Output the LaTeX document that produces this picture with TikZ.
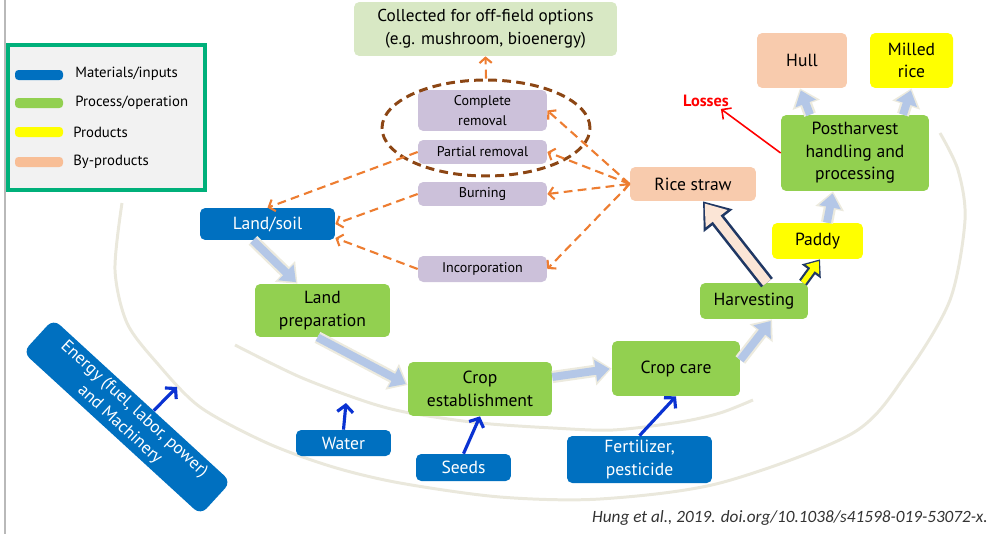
\documentclass[tikz,border=0pt]{standalone}
\usepackage{fontspec}
\setmainfont{PT Sans}
\newfontfamily\citefamily{Carlito}
\usetikzlibrary{arrows.meta,shapes}

\definecolor{matblue}{RGB}{0,112,192}
\definecolor{procgreen}{RGB}{146,208,80}
\definecolor{prodyellow}{RGB}{255,255,0}
\definecolor{byprod}{RGB}{248,203,173}
\definecolor{byprodbar}{RGB}{248,190,150}
\definecolor{optpurple}{RGB}{204,193,218}
\definecolor{offfield}{RGB}{216,232,196}
\definecolor{flowblue}{RGB}{180,199,231}
\definecolor{flowrim}{RGB}{236,234,222}
\definecolor{arcgray}{RGB}{234,232,220}
\definecolor{dashorange}{RGB}{237,125,49}
\definecolor{ringbrown}{RGB}{140,70,20}
\definecolor{inputblue}{RGB}{10,50,210}
\definecolor{navy}{RGB}{32,56,100}
\definecolor{strawfill}{RGB}{251,229,214}
\definecolor{legendgreen}{RGB}{0,176,122}
\definecolor{legendgray}{RGB}{242,242,242}

\newcommand{\boxfont}{\fontsize{10}{12.8}\selectfont}
\newcommand{\optfont}{\fontsize{8}{11}\selectfont}
\newcommand{\keyfont}{\fontsize{8.4}{9}\selectfont}
\newcommand{\energyfont}{\fontsize{9.8}{12}\selectfont}
\newcommand{\citefont}{\citefamily\itshape\fontsize{9.8}{11}\selectfont}

\tikzstyle{box}=[rectangle,rounded corners=3pt,inner sep=0pt,align=center,font=\boxfont]
\tikzstyle{matbox}=[box,fill=matblue,text=white]
\tikzstyle{procbox}=[box,fill=procgreen]
\tikzstyle{prodbox}=[box,fill=prodyellow]
\tikzstyle{byprodbox}=[box,fill=byprod]
\tikzstyle{optbox}=[box,fill=optpurple,font=\optfont,minimum width=2.58cm]
\tikzstyle{key}=[anchor=west,inner sep=0pt,font=\keyfont]
\tikzstyle{season}=[draw=arcgray,line width=1.7pt]
\tikzstyle{flow}=[draw=flowblue,line width=4.5pt,shorten >=1.2pt,-{Triangle[length=8pt,width=12pt]},preaction={draw=flowrim,line width=7pt,shorten >=0pt,-{Triangle[length=10pt,width=16pt]}}]
\tikzstyle{strawflow}=[draw=strawfill,line width=5.5pt,shorten >=1.5pt,-{Triangle[length=11pt,width=15pt]},preaction={draw=navy,line width=8.5pt,shorten >=0pt,-{Triangle[length=14pt,width=20pt]}}]
\tikzstyle{paddyflow}=[draw=prodyellow,line width=3pt,shorten >=1.2pt,-{Triangle[length=6pt,width=9pt]},preaction={draw=navy,line width=5.5pt,shorten >=0pt,-{Triangle[length=8.5pt,width=13pt]}}]
\tikzstyle{fate}=[draw=dashorange,line width=1.2pt,dash pattern=on 5pt off 3pt,-{Straight Barb[length=3pt,width=7pt]}]
\tikzstyle{feed}=[draw=inputblue,line width=1.8pt,-{Straight Barb[length=4pt,width=9pt]}]

\begin{document}
\begin{tikzpicture}[x=0.02cm,y=-0.02cm]
\useasboundingbox (0,0) rectangle (991,534);
% cycle in the background
\draw[season] plot[smooth] coordinates {(122,203) (115,270) (127,323) (157,363) (200,407) (267,443) (333,467) (400,483) (500,497) (600,499) (720,483) (853,433) (907,373) (950,300) (965,220) (958,170) (940,133)};
\draw[season] plot[smooth] coordinates {(235,345) (300,377) (367,402) (410,413) (480,423) (553,428) (613,430) (680,422) (720,413) (753,400)};
\draw[gray!55,line width=1.1pt] (5,0) -- (5,534);

% legend
\draw[legendgreen,line width=2pt,fill=legendgray] (8,45) rectangle (205,190);
\fill[matblue,rounded corners=2pt] (15,70) rectangle (63,80);
\fill[procgreen,rounded corners=2pt] (15,98) rectangle (63,108);
\fill[prodyellow,rounded corners=2pt] (15,127) rectangle (63,137);
\fill[byprodbar,rounded corners=2pt] (15,157) rectangle (63,167);
\node[key] (kmat) at (75,74) {Materials/inputs};
\node[key] (kproc) at (75,103) {Process/operation};
\node[key] (kprod) at (73,132) {Products};
\node[key] (kby) at (73,162) {By-products};

% boxes
\node[box,fill=offfield,minimum width=5.26cm,minimum height=1.08cm,font=\fontsize{9.8}{13}\selectfont] (offfield) at (485.5,29) {Collected for off-field options\\(e.g. mushroom, bioenergy)};
\node[optbox,minimum height=0.82cm] (compl) at (482.5,110.5) {Complete\\removal};
\node[optbox,minimum height=0.48cm] (partial) at (482.5,152) {Partial removal};
\node[optbox,minimum height=0.48cm] (burning) at (482.5,194) {Burning};
\node[optbox,minimum height=0.52cm] (incorp) at (482.5,269) {Incorporation};
\node[draw=ringbrown,ellipse,line width=1.7pt,dash pattern=on 5pt off 3pt,minimum width=4.16cm,minimum height=1.92cm] (removal) at (486,128) {};
\node[byprodbox,minimum width=2.52cm,minimum height=0.68cm] (straw) at (693,184) {Rice straw};
\node[matbox,minimum width=2.7cm,minimum height=0.64cm] (land) at (267.5,224) {Land/soil};
\node[procbox,minimum width=2.7cm,minimum height=1.06cm] (landprep) at (322.5,310.5) {Land\\preparation};
\node[procbox,minimum width=2.88cm,minimum height=1.08cm] (cropest) at (480,389) {Crop\\establishment};
\node[procbox,minimum width=2.56cm,minimum height=1.1cm] (cropcare) at (676,368.5) {Crop care};
\node[procbox,minimum width=2.16cm,minimum height=0.72cm] (harvest) at (754,301) {Harvesting};
\node[prodbox,minimum width=1.82cm,minimum height=0.72cm] (paddy) at (817.5,241) {Paddy};
\node[procbox,minimum width=2.96cm,minimum height=1.52cm] (post) at (855,153) {Postharvest\\handling and\\processing};
\node[byprodbox,minimum width=1.8cm,minimum height=1.1cm] (hull) at (802,60.5) {Hull};
\node[prodbox,minimum width=1.66cm,minimum height=1.1cm] (milled) at (911.5,60.5) {Milled\\rice};
\node[font=\fontsize{9.3}{11}\selectfont\bfseries,text=red,inner sep=1pt] (losses) at (706,101) {Losses};
\node[matbox,minimum width=1.9cm,minimum height=0.52cm] (water) at (343.5,443) {Water};
\node[matbox,minimum width=1.9cm,minimum height=0.54cm] (seeds) at (463.5,467.5) {Seeds};
\node[matbox,minimum width=2.9cm,minimum height=0.94cm] (fert) at (639.5,459.5) {Fertilizer,\\pesticide};
\node[matbox,rounded corners=5pt,rotate=-42.5,minimum width=4.82cm,minimum height=0.9cm,font=\energyfont] (energy) at (127,417) {Energy (fuel, labor, power)\\and Machinery};
\coordinate (energytip) at (177,387);
\coordinate (watertip) at (346,403);

% main flow
\draw[flow] ([xshift=-0.29cm]land.south) -- ([xshift=-0.5cm]landprep.north);
\draw[flow] ([xshift=-0.1cm]landprep.south) -- ([yshift=0.08cm]cropest.west);
\draw[flow] ([yshift=0.24cm]cropest.east) -- (cropcare.west);
\draw[flow] ([yshift=0.17cm]cropcare.east) -- ([xshift=0.36cm]harvest.south);
\draw[strawflow] ([xshift=0.26cm]harvest.north) -- ([xshift=0.2cm]straw.south);
\draw[paddyflow] ([xshift=0.98cm]harvest.north) -- ([xshift=0.05cm]paddy.south);
\draw[flow] ([xshift=0.19cm]paddy.north) -- ([xshift=-0.44cm]post.south);
\draw[flow] ([xshift=-0.9cm]post.north) -- ([xshift=-0.04cm]hull.south);
\draw[flow] ([xshift=0.96cm]post.north) -- (milled.south);
\draw[red,line width=0.9pt,-{Straight Barb[length=4pt,width=8pt]}] (post.west) -- ([xshift=-0.2cm]losses.south east);

% fate of the straw
\draw[fate] (straw.west) -- (compl.east);
\draw[fate] (straw.west) -- (partial.east);
\draw[fate,{Straight Barb[length=3pt,width=7pt]}-{Straight Barb[length=3pt,width=7pt]}] (burning.east) -- (straw.west);
\draw[fate] (straw.west) -- (incorp.east);
\draw[fate] (partial.west) -- (land.north);
\draw[fate] (burning.west) -- (land.east);
\draw[fate] (incorp.west) -- ([yshift=-0.28cm]land.east);
\draw[fate] (removal.north) -- (offfield.south);

% inputs
\draw[feed] (energy.56) -- (energytip);
\draw[feed] (water.north) -- (watertip);
\draw[feed] (seeds.north) -- (cropest.south);
\draw[feed] (fert.north) -- (cropcare.south);

\node[anchor=east,font=\citefont,text=black!80,inner sep=0pt] (cite) at (988,518) {Hung et al., 2019. doi.org/10.1038/s41598-019-53072-x.};
\end{tikzpicture}
\end{document}
